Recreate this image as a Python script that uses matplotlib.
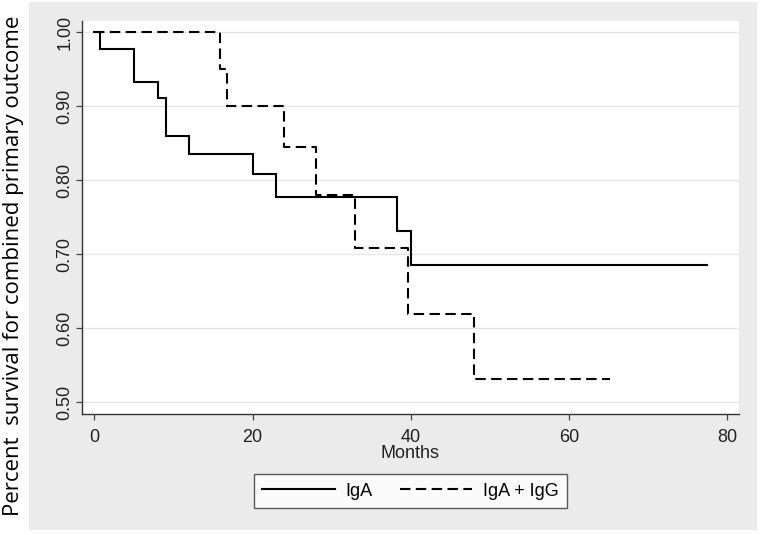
import matplotlib
matplotlib.use("Agg")
import matplotlib.pyplot as plt
from matplotlib.patches import Rectangle

# Data (Kaplan-Meier step curves)
iga_months = [0, 0.7, 5, 8, 9, 12, 20, 23, 38.3, 40, 77.5]
iga_surv = [1.0, 0.978, 0.933, 0.911, 0.860, 0.835, 0.808, 0.778, 0.731, 0.685, 0.685]
igag_months = [0, 15.9, 16.8, 24, 28, 33, 39.7, 48, 65.2]
igag_surv = [1.0, 0.951, 0.900, 0.845, 0.780, 0.708, 0.619, 0.531, 0.531]

xticks = [0, 20, 40, 60, 80]
yticks = [0.50, 0.60, 0.70, 0.80, 0.90, 1.00]
ytick_labels = ["0.50", "0.60", "0.70", "0.80", "0.90", "1.00"]
series_labels = ["IgA", "IgA + IgG"]

W, H = 760, 535
fig = plt.figure(figsize=(W / 100, H / 100), dpi=100)
fig.patch.set_facecolor("white")

# gray outer region
bg = Rectangle((29 / W, 1 - 530 / H), 728 / W, 528 / H,
               transform=fig.transFigure, facecolor="#ebebeb",
               edgecolor="none", zorder=-10)
fig.add_artist(bg)

left, right, top, bottom = 82.3, 739, 21, 414
ax = fig.add_axes([left / W, 1 - bottom / H, (right - left) / W, (bottom - top) / H])
ax.set_zorder(1)
ax.set_facecolor("white")

ax.step(iga_months, iga_surv, where="post", color="black", lw=1.5,
        label=series_labels[0], solid_joinstyle="miter")
ax.step(igag_months, igag_surv, where="post", color="black", lw=1.5,
        dashes=(5.0, 2.6), label=series_labels[1])

ax.set_xlim(-1.52, 81.5)
ax.set_ylim(0.4842, 1.0153)

ax.set_yticks(yticks)
ax.set_yticklabels(ytick_labels, rotation=90, va="center")
ax.set_xticks(xticks)

tickfont = "Liberation Sans"
fs = 13
for lab in ax.get_xticklabels() + ax.get_yticklabels():
    lab.set_fontfamily(tickfont)
    lab.set_fontsize(fs)
    lab.set_color("#222222")

ax.tick_params(axis="x", direction="out", length=4.3, width=0.9, color="#444444", pad=6.5)
ax.tick_params(axis="y", direction="out", length=4.3, width=0.9, color="#444444", pad=2)

ax.grid(axis="y", color="#e6e6e6", lw=1.0)
ax.set_axisbelow(True)
for s in ["top", "right"]:
    ax.spines[s].set_visible(False)
for s in ["left", "bottom"]:
    ax.spines[s].set_color("#333333")
    ax.spines[s].set_linewidth(1.0)

fig.text(410.5 / W, 1 - 453 / H, "Months", ha="center", va="center",
         fontfamily=tickfont, fontsize=fs, color="#222222")
fig.text(14 / W, 1 - 266 / H, "Percent  survival for combined primary outcome",
         rotation=90, ha="center", va="center", fontfamily="Open Sans",
         fontsize=16.0, color="black")

leg = fig.legend(loc="center", bbox_to_anchor=(410.5 / W, 1 - 491 / H), ncol=2,
                 frameon=True, fancybox=False, handlelength=4.0,
                 columnspacing=1.5, handletextpad=0.6, borderpad=0.45,
                 prop={"family": tickfont, "size": fs})
leg.get_frame().set_edgecolor("#333333")
leg.get_frame().set_linewidth(1.0)
leg.get_frame().set_facecolor("white")

fig.savefig("out.png", dpi=100, facecolor="white")
